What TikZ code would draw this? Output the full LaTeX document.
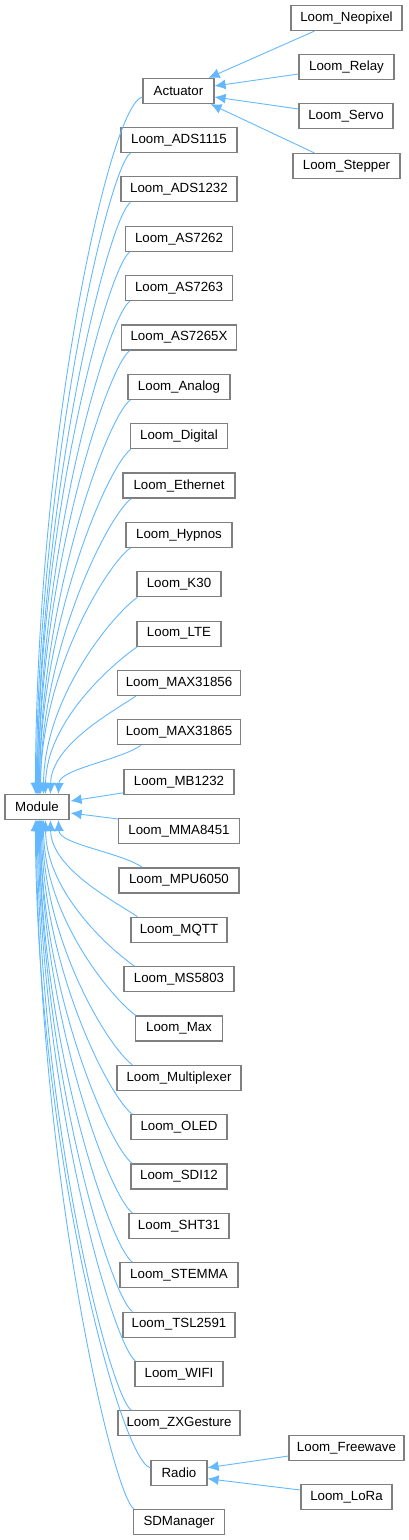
\documentclass[tikz,border=0pt]{standalone}
\usepackage{fontspec}
\setmainfont{Liberation Sans}
\usetikzlibrary{arrows.meta,calc}
\definecolor{edgeblue}{HTML}{63B8FF}
\definecolor{boxgray}{HTML}{7F7F7F}
\begin{document}
\begin{tikzpicture}[x=1pt,y=-1pt,
  box/.style={draw=boxgray, line width=1.2pt, fill=white, minimum height=25pt, inner sep=0pt, font=\fontsize{13.3}{16}\selectfont},
  edge/.style={draw=edgeblue, line width=0.9pt, -{Latex[length=11pt,width=10pt]}}]
\useasboundingbox (0,0) rectangle (409,1540);
% base class
\node[box, minimum width=64pt] (M) at (37,807) {Module};
\node[box, minimum width=71pt] (act) at (178.5,91) {Actuator};
% middle column
\foreach \lab/\w [count=\i from 0] in {Loom\_ADS1115/116, Loom\_ADS1232/116, Loom\_AS7262/107, Loom\_AS7263/107, Loom\_AS7265X/115, Loom\_Analog/102, Loom\_Digital/97, Loom\_Ethernet/112, Loom\_Hypnos/106, Loom\_K30/84, Loom\_LTE/84, Loom\_MAX31856/123, Loom\_MAX31865/123, Loom\_MB1232/110, Loom\_MMA8451/121, Loom\_MPU6050/120, Loom\_MQTT/96, Loom\_MS5803/110, Loom\_Max/87, Loom\_Multiplexer/124, Loom\_OLED/96, Loom\_SDI12/96, Loom\_SHT31/100, Loom\_STEMMA/118, Loom\_TSL2591/112, Loom\_WIFI/88, Loom\_ZXGesture/122, Radio/56, SDManager/91} {
  \node[box, minimum width=\w pt] (n\i) at (179,{140+49.36*\i}) {\lab};
}
% right column
\node[box, minimum width=111pt] (neo) at (346.5,18) {Loom\_Neopixel};
\node[box, minimum width=95pt] (relay) at (346.5,67) {Loom\_Relay};
\node[box, minimum width=94pt] (servo) at (346,116) {Loom\_Servo};
\node[box, minimum width=107pt] (stepper) at (346.5,166) {Loom\_Stepper};
\node[box, minimum width=115pt] (freewave) at (346.5,1448) {Loom\_Freewave};
\node[box, minimum width=91pt] (lora) at (346.5,1497) {Loom\_LoRa};
% Actuator children
\draw[edge] ($(neo.south west)+(24,0)$) -- ($(act.north east)+(-6,0)$);
\draw[edge] ($(relay.west)+(0,7)$) -- ($(act.east)+(0,-5)$);
\draw[edge] ($(servo.west)+(0,-7)$) -- ($(act.east)+(0,6)$);
\draw[edge] ($(stepper.north west)+(22,0)$) -- ($(act.south east)+(-4,0)$);
% Radio children
\draw[edge] ($(freewave.west)+(0,8)$) -- ($(n27.east)+(0,-5)$);
\draw[edge] ($(lora.west)+(0,-7)$) -- ($(n27.east)+(0,6)$);
% edges to Module from above
\draw[edge] ($(act.west)+(0,6)$) .. controls +(-32,6) and +(1,-360) .. ($(M.north west)+(31,0)$);
\foreach \i/\s/\tx in {0/10/37, 1/10/38, 2/5/38, 3/5/39, 4/9/39, 5/3/40, 6/1/40, 7/9/41, 8/5/41, 9/1/44, 10/1/46, 11/19/51, 12/24/59} {
  \draw[edge] ($(n\i.south west)+(\s,0)$) .. controls +(-22,15) and +(1,{-0.5*(794.5-(140+49.36*\i+12.5))}) .. ($(M.north west)+(\tx-5,0)$);
}
\draw[edge] ($(n13.south west)+(0,-2)$) -- ($(M.east)+(1,-6)$);
\draw[edge] ($(n14.north west)+(0,1)$) -- ($(M.east)+(1,6)$);
% edges to Module from below
\foreach \i/\s/\tx in {15/24/59, 16/7/51, 17/11/46, 18/1/44, 19/16/43, 20/2/42, 21/2/41, 22/4/41, 23/13/40, 24/10/40, 25/1/39, 26/14/38, 28/1/37} {
  \draw[edge] ($(n\i.north west)+(\s,0)$) .. controls +(-22,-15) and +(1,{0.5*((140+49.36*\i-12.5)-819.5)}) .. ($(M.south west)+(\tx-5,0)$);
}
\draw[edge] ($(n27.west)+(0,-5)$) .. controls +(-30,-6) and +(1,{0.5*(1467-819.5)}) .. ($(M.south west)+(31,0)$);
\end{tikzpicture}
\end{document}
